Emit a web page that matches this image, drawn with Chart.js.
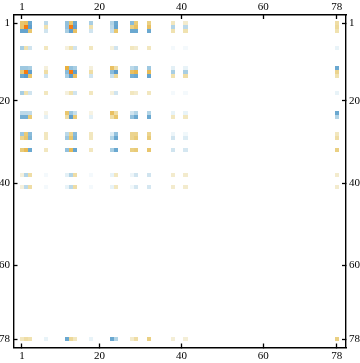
<!DOCTYPE html>
<html>
<head>
<meta charset="utf-8">
<style>
  html, body { margin: 0; padding: 0; background: #fff; }
  canvas { display: block; }
</style>
<script src="https://cdn.jsdelivr.net/npm/chart.js@4/dist/chart.umd.min.js"></script>
</head>
<body>
<canvas id="matrix" width="360" height="363"></canvas>
<script>
// row and column numbers that hold a non zero value
const activeIndex = [1, 2, 3, 7, 12, 13, 14, 18, 23, 24, 28, 29, 32, 38, 41, 78];
const tickLabels = [1, 20, 40, 60, 78];

// one list per matrix row, same order as activeIndex
const row1 = [0.55, 0.6, -0.7, -0.3, -0.5, 0.55, -0.7, -0.4, -0.35, -0.7, -0.55, 0.5, 0.45, 0.2, 0.15, 0.3];
const row2 = [0.55, 1, -0.8, 0.25, -0.5, 1, -0.8, 0.25, -0.3, -0.75, 0.45, 0.6, 0.6, -0.35, -0.3, 0.35];
const row3 = [-0.75, -0.75, 0.55, -0.2, -0.4, -0.8, 0.6, -0.2, -0.25, 0.55, -0.7, -0.7, -0.7, 0.25, 0.25, 0.25];
const row7 = [-0.4, 0.25, -0.2, 0.2, 0.1, 0.25, -0.2, 0.2, 0.1, -0.2, 0.2, 0.15, 0.2, -0.05, -0.05, -0.1];
const row12 = [-0.45, -0.45, -0.4, 0.1, 0.75, -0.5, -0.4, 0.1, 0.6, 0.3, -0.3, -0.4, -0.45, -0.12, -0.1, -0.7];
const row13 = [0.5, 1, -0.8, 0.3, -0.55, 1, -0.8, 0.3, -0.55, -0.85, 0.6, 0.7, 0.65, -0.4, -0.4, 0.4];
const row14 = [-0.7, -0.85, 0.55, -0.2, -0.4, -0.8, 0.6, -0.2, -0.25, 0.35, -0.65, -0.7, -0.75, 0.25, 0.3, 0.25];
const row18 = [-0.4, 0.25, -0.2, 0.2, 0.1, 0.25, -0.2, 0.2, 0.1, -0.2, 0.2, 0.15, 0.2, -0.05, -0.05, -0.1];
const row23 = [-0.3, -0.3, -0.28, 0.08, 0.55, -0.45, -0.25, 0.08, 0.6, 0.3, -0.2, -0.35, -0.35, -0.1, -0.1, -0.7];
const row24 = [-0.65, -0.65, 0.5, -0.12, 0.3, -0.8, 0.5, -0.12, 0.3, 0.55, -0.5, -0.7, -0.7, 0.2, 0.2, -0.35];
const row28 = [-0.45, 0.5, -0.55, 0.2, -0.3, 0.4, -0.55, 0.2, -0.15, -0.5, 0.4, 0.4, 0.4, -0.08, -0.06, 0.2];
const row29 = [0.4, 0.55, -0.6, 0.2, -0.45, 0.55, -0.6, 0.2, -0.35, -0.7, 0.4, 0.5, 0.5, -0.2, -0.15, 0.3];
const row32 = [0.5, 0.65, -0.7, 0.2, -0.5, 0.65, -0.75, 0.2, -0.4, -0.7, 0.45, 0.5, 0.55, -0.2, -0.18, 0.45];
const row38 = [0.1, -0.35, 0.3, -0.05, -0.12, -0.35, 0.3, -0.05, -0.1, 0.2, -0.08, -0.2, -0.2, 0.15, 0.15, 0.15];
const row41 = [0.1, -0.3, 0.3, -0.05, -0.1, -0.3, 0.3, -0.05, -0.1, 0.2, -0.06, -0.18, -0.18, 0.15, 0.15, 0.15];
const row78 = [0.2, 0.3, 0.25, -0.1, -0.7, 0.35, 0.2, -0.1, -0.7, -0.35, 0.15, 0.3, 0.45, 0.12, 0.12, 0.45];

const matrixRows = [row1, row2, row3, row7, row12, row13, row14, row18, row23, row24, row28, row29, row32, row38, row41, row78];

const cells = [];
matrixRows.forEach((values, r) => {
  values.forEach((v, c) => {
    cells.push({ x: activeIndex[c], y: activeIndex[r], v: v });
  });
});

// white in the middle, blue below, orange above
const blueStops = [[0, [255, 255, 255]], [0.1, [232, 243, 248]], [0.2, [208, 228, 239]], [0.4, [168, 206, 227]], [0.7, [106, 168, 208]], [1, [75, 142, 198]]];
const orangeStops = [[0, [255, 255, 255]], [0.1, [245, 240, 220]], [0.25, [240, 226, 176]], [0.5, [233, 203, 120]], [0.75, [232, 176, 64]], [1, [245, 124, 16]]];

function cellColor(v) {
  const stops = v < 0 ? blueStops : orangeStops;
  const a = Math.abs(v);
  for (let i = 1; i < stops.length; i++) {
    if (a <= stops[i][0]) {
      const t = (a - stops[i - 1][0]) / (stops[i][0] - stops[i - 1][0]);
      const rgb = stops[i][1].map((s, k) => Math.round(stops[i - 1][1][k] + (s - stops[i - 1][1][k]) * t));
      return `rgb(${rgb.join(",")})`;
    }
  }
  return "rgb(245,124,16)";
}

// square cells snapped to whole pixels, the reference has no soft edges
Chart.elements.PointElement.prototype.draw = function (ctx) {
  const r = this.options.radius;
  const left = Math.round(this.x - r);
  const top = Math.round(this.y - r);
  ctx.fillStyle = this.options.backgroundColor;
  ctx.fillRect(left, top, Math.round(this.x + r) - left, Math.round(this.y + r) - top);
};

function axis(position, size, min, max, reverse, padding) {
  const horizontal = position === "top" || position === "bottom";
  return {
    type: "linear",
    position: position,
    min: min,
    max: max,
    reverse: reverse,
    afterBuildTicks: (scale) => {
      scale.ticks = tickLabels.map((t) => ({ value: t }));
    },
    afterFit: (scale) => {
      if (horizontal) scale.height = size;
      else scale.width = size;
    },
    grid: { drawOnChartArea: false, tickLength: -4, tickWidth: 1.3, tickColor: "#000" },
    border: { display: true, color: "#000", width: 1.4 },
    ticks: {
      autoSkip: false,
      maxRotation: 0,
      minRotation: 0,
      padding: padding,
      color: "#000",
      font: { family: "Liberation Serif", size: 11 },
      callback: (value) => String(value),
    },
  };
}

const xMin = -1.054, xMax = 80.24, yMin = -0.95, yMax = 80.07;

new Chart(document.getElementById("matrix"), {
  type: "scatter",
  data: {
    datasets: [
      {
        data: cells,
        pointRadius: 2.05,
        pointHoverRadius: 2.05,
        pointBorderWidth: 0,
        backgroundColor: (ctx) => (ctx.raw ? cellColor(ctx.raw.v) : "#fff"),
      },
    ],
  },
  options: {
    responsive: false,
    animation: false,
    events: [],
    layout: { padding: 0 },
    plugins: { legend: { display: false }, tooltip: { enabled: false } },
    scales: {
      x: axis("bottom", 15.5, xMin, xMax, false, 6.5),
      xTop: axis("top", 15, xMin, xMax, false, 5.5),
      y: axis("left", 13.5, yMin, yMax, true, 7.5),
      yRight: axis("right", 14, yMin, yMax, true, 7),
    },
  },
});
</script>
</body>
</html>
